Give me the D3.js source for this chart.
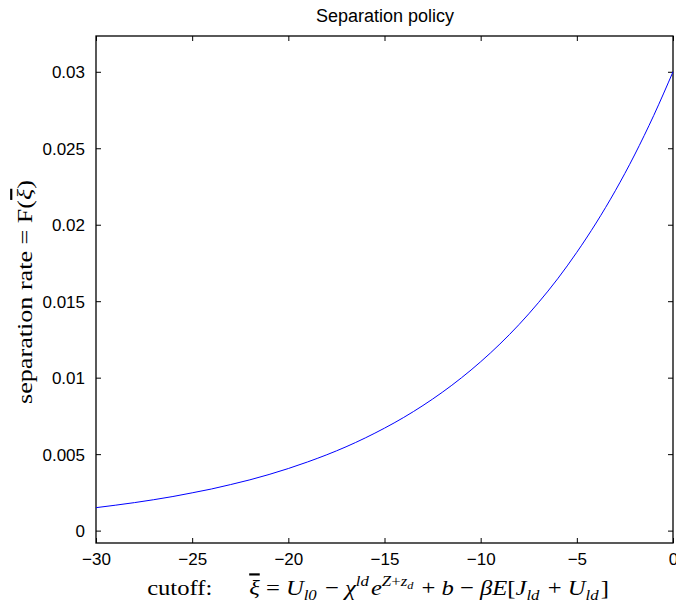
<!DOCTYPE html>
<html><head><meta charset="utf-8">
<script src="https://cdn.jsdelivr.net/npm/d3@7"></script>
<style>
html,body{margin:0;padding:0;background:#fff;}
svg{display:block;}
.tick text{font-family:"Liberation Sans",Arial,sans-serif;font-size:17px;fill:#000;}
</style></head>
<body>
<svg id="chart" width="676" height="602"></svg>
<script>
// Data
const cutoff = [-30,-29,-28,-27,-26,-25,-24,-23,-22,-21,-20,-19,-18,-17,-16,-15,-14,-13,-12,-11,-10,-9,-8,-7,-6,-5,-4,-3,-2,-1,0];
const sepRate = [0.00150,0.00166,0.00183,0.00202,0.00223,0.00247,0.00272,0.00301,0.00332,0.00367,0.00406,0.00449,0.00496,0.00548,0.00606,0.00670,0.00740,0.00818,0.00904,0.00999,0.01104,0.01220,0.01348,0.01490,0.01646,0.01820,0.02011,0.02222,0.02456,0.02715,0.03000];
const xTicks = [-30,-25,-20,-15,-10,-5,0];
const yTicks = [0,0.005,0.01,0.015,0.02,0.025,0.03];
const xDomain = [-30,0];
const yDomain = [-0.00081,0.03234];

const svg = d3.select("#chart");
const L=96, R=673, T=36, B=543;
const x = d3.scaleLinear().domain(xDomain).range([L,R]);
const y = d3.scaleLinear().domain(yDomain).range([B,T]);
const fmtX = d => (d<0 ? "\u2212"+Math.abs(d) : String(d));
const fmtY = d => String(+d.toFixed(3));

// axes
const ax = svg.append("g").attr("transform",`translate(0,${B})`)
  .call(d3.axisBottom(x).tickValues(xTicks).tickSize(-5).tickPadding(10).tickFormat(fmtX));
const axT = svg.append("g").attr("transform",`translate(0,${T})`)
  .call(d3.axisTop(x).tickValues(xTicks).tickSize(-5).tickFormat(""));
const ay = svg.append("g").attr("transform",`translate(${L},0)`)
  .call(d3.axisLeft(y).tickValues(yTicks).tickSize(-5).tickPadding(11).tickFormat(fmtY));
const ayR = svg.append("g").attr("transform",`translate(${R},0)`)
  .call(d3.axisRight(y).tickValues(yTicks).tickSize(-5).tickFormat(""));
[ax,axT,ay,ayR].forEach(g=>{
  g.select(".domain").remove();
  g.selectAll(".tick line").attr("stroke","#000").attr("stroke-width",1);
});
ay.selectAll(".tick text").attr("dy","0.35em");

// box
svg.append("rect").attr("x",L).attr("y",T).attr("width",R-L).attr("height",B-T)
  .attr("fill","none").attr("stroke","#000").attr("stroke-width",1.3);

// line
const line = d3.line().x((d,i)=>x(cutoff[i])).y(d=>y(d)).curve(d3.curveMonotoneX);
svg.append("path").datum(sepRate).attr("d",line)
  .attr("fill","none").attr("stroke","#0000ff").attr("stroke-width",1);

// title
svg.append("text").attr("x",385).attr("y",22).attr("text-anchor","middle")
  .style("font-family",'"Liberation Sans",Arial,sans-serif').style("font-size","18px")
  .text("Separation policy");

// helper to stretch a label horizontally (in its own frame) to a target length
function stretch(sel, cx, cy, rot, target){
  const w = sel.node().getComputedTextLength();
  const s = target / w;
  sel.attr("transform",`translate(${cx},${cy}) rotate(${rot}) scale(${s},1)`);
}

// y label
const yl = svg.append("text").attr("x",0).attr("y",0)
  .attr("text-anchor","middle")
  .style("font-family",'"Liberation Serif","DejaVu Serif",serif').style("font-size","22px");
yl.append("tspan").text("separation rate = F(");
yl.append("tspan").style("font-style","italic").attr("text-decoration","overline").text("ξ");
yl.append("tspan").text(")");
stretch(yl, 32, 292, -90, 224);

// x label
const xl = svg.append("text").attr("x",0).attr("y",0).attr("text-anchor","middle")
  .style("font-family",'"Liberation Serif","DejaVu Serif",serif').style("font-size","22px");
const it = (t)=>xl.append("tspan").style("font-style","italic").text(t);
const rm = (t)=>xl.append("tspan").text(t);
const sub = (t)=>{ xl.append("tspan").attr("dy",5).style("font-style","italic").style("font-size","15px").text(t); xl.append("tspan").attr("dy",-5).text("\u200a"); };
const sup = (t)=>{ xl.append("tspan").attr("dy",-9).style("font-style","italic").style("font-size","15px").text(t); xl.append("tspan").attr("dy",9).text("\u200a"); };
rm("cutoff:\u2003\u2002");
xl.append("tspan").style("font-style","italic").attr("text-decoration","overline").text("ξ");
rm(" = "); it("U"); sub("l0");
rm(" \u2212 "); it("χ"); sup("ld");
it("e");
xl.append("tspan").attr("dy",-9).style("font-style","italic").style("font-size","15px").text("Z");
xl.append("tspan").style("font-size","15px").text("+");
xl.append("tspan").style("font-style","italic").style("font-size","15px").text("z");
xl.append("tspan").attr("dy",3).style("font-style","italic").style("font-size","11px").text("d");
xl.append("tspan").attr("dy",6).text("\u200a");
rm(" + "); it("b"); rm(" \u2212 "); it("βE"); rm("["); it("J"); sub("ld");
rm(" + "); it("U"); sub("ld"); rm("]");
stretch(xl, 378, 595, 0, 462);
</script>
</body></html>
